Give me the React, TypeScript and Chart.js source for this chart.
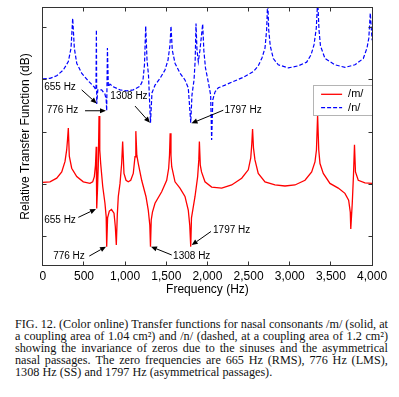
import React, { useEffect, useRef } from 'react';
import { Chart, registerables } from 'chart.js';

Chart.register(...registerables);

const SANS = '"Liberation Sans", Arial, Helvetica, sans-serif';
const SERIF = '"Liberation Serif", "Times New Roman", Times, serif';

// Frequency axis ticks (Hz) and dB gridline positions (unlabelled)
const X_TICKS = [0, 500, 1000, 1500, 2000, 2500, 3000, 3500, 4000];
const Y_TICKS = [-40, -30, -20, -10, 0];
const Y_MIN = -45.55;
const Y_MAX = 3.9;

// /m/ (solid red)
const M_FREQ = [0, 87, 169, 230, 270, 290, 300, 310, 322, 351, 412, 492, 573, 606, 626, 640, 649, 655, 664, 674, 683, 692, 703, 728, 755, 770, 776, 787, 808, 834, 865, 881, 893, 905, 917, 938, 958, 970, 986, 1011, 1038, 1068, 1099, 1120, 1130, 1142, 1160, 1201, 1253, 1281, 1300, 1308, 1317, 1332, 1363, 1444, 1505, 1529, 1539, 1547, 1557, 1566, 1606, 1666, 1727, 1767, 1785, 1797, 1806, 1849, 1881, 1895, 1902, 1913, 1928, 1970, 2051, 2173, 2294, 2416, 2496, 2526, 2538, 2548, 2559, 2577, 2617, 2699, 2820, 2942, 3063, 3185, 3266, 3306, 3324, 3338, 3352, 3367, 3407, 3488, 3589, 3670, 3715, 3735, 3741, 3759, 3774, 3786, 3798, 3832, 3913, 4000];
const M_DB = [-29.6, -29.5, -28.8, -27.6, -25.6, -23.4, -21.5, -19.2, -24.6, -26.9, -28.5, -29.5, -29.8, -29.5, -28.5, -26.3, -22.8, -34.6, -31.1, -26.3, -16.9, -23.4, -26.0, -30.4, -33.6, -36.2, -41.9, -36.4, -35.1, -34.8, -35.5, -38.1, -41.6, -35.8, -32.3, -29.8, -26.0, -21.8, -27.9, -29.2, -29.5, -29.2, -27.9, -24.7, -19.8, -24.4, -26.0, -29.2, -32.3, -34.9, -37.8, -41.9, -36.8, -35.3, -33.6, -31.4, -29.2, -26.9, -24.4, -20.2, -24.4, -26.6, -29.5, -30.7, -32.3, -34.9, -37.8, -41.9, -36.4, -32.3, -28.5, -25.3, -21.8, -26.3, -27.6, -29.5, -30.5, -30.7, -30.1, -28.8, -27.2, -24.9, -22.4, -19.4, -23.0, -25.3, -27.9, -29.5, -30.1, -30.3, -30.1, -29.2, -27.6, -25.7, -23.4, -16.7, -23.4, -26.0, -27.9, -29.8, -30.7, -31.7, -33.0, -35.3, -38.5, -33.6, -28.2, -22.4, -27.6, -29.2, -29.7, -29.8];

// /n/ (dashed blue)
const N_FREQ = [0, 87, 169, 249, 310, 343, 363, 383, 412, 472, 553, 622, 646, 651, 655, 668, 715, 755, 770, 776, 785, 796, 816, 856, 938, 1019, 1099, 1181, 1217, 1235, 1250, 1266, 1284, 1308, 1326, 1363, 1424, 1484, 1521, 1545, 1557, 1573, 1606, 1666, 1727, 1767, 1797, 1812, 1837, 1851, 1861, 1873, 1889, 1909, 1942, 1956, 1976, 2010, 2039, 2051, 2065, 2092, 2132, 2213, 2314, 2435, 2557, 2617, 2662, 2699, 2719, 2732, 2744, 2763, 2800, 2860, 2982, 3103, 3205, 3258, 3294, 3322, 3339, 3355, 3373, 3428, 3549, 3671, 3792, 3893, 3938, 3960, 3978, 4000];
const N_DB = [-9.8, -9.7, -9.2, -8.1, -6.5, -3.9, 1.8, -3.9, -6.8, -8.7, -10.2, -11.3, -11.9, -0.4, -14.6, -11.9, -11.9, -12.7, -13.8, -15.9, -3.9, -11.3, -10.8, -11.3, -11.9, -12.1, -11.9, -11.2, -10.0, -7.1, 0.3, -6.2, -9.1, -18.2, -12.5, -11.0, -9.7, -8.1, -6.2, -3.3, 0.3, -4.3, -6.8, -8.7, -10.0, -11.5, -18.2, -12.9, -10.0, -6.2, 0.8, -4.3, -6.5, -4.3, 0.7, -4.3, -7.7, -10.4, -12.9, -21.5, -13.8, -12.3, -11.5, -11.0, -10.3, -9.5, -8.4, -7.3, -5.8, -3.9, -0.4, 5.3, -0.4, -3.5, -5.9, -7.1, -7.7, -7.3, -6.6, -5.2, -3.3, -0.1, 5.3, -0.4, -3.5, -5.9, -7.1, -7.6, -7.1, -5.9, -3.9, -2.0, 2.8, -2.4];

// Zero-frequency callouts: label centre, arrow tail, arrow head (Hz, dB)
const CALLOUTS = [
  { text: '655 Hz', at: [209, -11.4], from: [472, -11.9], to: [655, -14.5] },
  { text: '776 Hz', at: [239, -15.8], from: [513, -15.9], to: [768, -15.9] },
  { text: '1308 Hz', at: [1047, -13.2], from: [1120, -15.0], to: [1302, -18.2] },
  { text: '1797 Hz', at: [2432, -15.8], from: [2192, -15.8], to: [1806, -18.3] },
  { text: '655 Hz', at: [209, -36.8], from: [431, -36.3], to: [646, -34.7] },
  { text: '776 Hz', at: [318, -43.8], from: [565, -43.7], to: [768, -41.9] },
  { text: '1308 Hz', at: [1809, -43.8], from: [1566, -43.5], to: [1314, -41.9] },
  { text: '1797 Hz', at: [2294, -38.7], from: [2043, -39.0], to: [1809, -41.6] },
];

const CAPTION_LINES = [
  'FIG. 12. (Color online) Transfer functions for nasal consonants /m/ (solid, at',
  'a coupling area of 1.04 cm²) and /n/ (dashed, at a coupling area of 1.2 cm²)',
  'showing the invariance of zeros due to the sinuses and the asymmetrical',
  'nasal passages. The zero frequencies are 665 Hz (RMS), 776 Hz (LMS),',
  '1308 Hz (SS) and 1797 Hz (asymmetrical passages).',
];

function drawArrow(ctx: CanvasRenderingContext2D, x0: number, y0: number, x1: number, y1: number) {
  const ang = Math.atan2(y1 - y0, x1 - x0);
  const len = 6;
  const hw = 2.6;
  const bx = x1 - len * Math.cos(ang);
  const by = y1 - len * Math.sin(ang);
  ctx.beginPath();
  ctx.moveTo(x0, y0);
  ctx.lineTo(bx, by);
  ctx.stroke();
  ctx.beginPath();
  ctx.moveTo(x1, y1);
  ctx.lineTo(bx + hw * Math.sin(ang), by - hw * Math.cos(ang));
  ctx.lineTo(bx - hw * Math.sin(ang), by + hw * Math.cos(ang));
  ctx.closePath();
  ctx.fill();
}

const framePlugin = {
  id: 'framePlugin',
  afterDatasetsDraw(chart: any) {
    const { ctx, chartArea: a, scales } = chart;
    const xs = scales.x;
    const ys = scales.y;
    ctx.save();

    // callouts
    ctx.strokeStyle = '#000';
    ctx.fillStyle = '#000';
    ctx.lineWidth = 1;
    ctx.font = `10px ${SANS}`;
    ctx.textAlign = 'center';
    ctx.textBaseline = 'middle';
    for (const c of CALLOUTS) {
      ctx.fillText(c.text, xs.getPixelForValue(c.at[0]), ys.getPixelForValue(c.at[1]));
      drawArrow(
        ctx,
        xs.getPixelForValue(c.from[0]), ys.getPixelForValue(c.from[1]),
        xs.getPixelForValue(c.to[0]), ys.getPixelForValue(c.to[1])
      );
    }

    // legend box
    const bw = 59, bh = 30;
    const bx = a.right - bw;
    const by = a.top + 77.7;
    ctx.fillStyle = '#fff';
    ctx.fillRect(bx, by, bw, bh);
    ctx.strokeStyle = '#b4b4b4';
    ctx.lineWidth = 1;
    ctx.strokeRect(Math.floor(bx) + 0.5, Math.floor(by) + 0.5, bw, bh);
    const ds = chart.data.datasets;
    const rows = [by + 9.3, by + 22.7];
    ds.forEach((d: any, i: number) => {
      ctx.save();
      ctx.strokeStyle = d.borderColor;
      ctx.lineWidth = d.borderWidth;
      ctx.setLineDash(d.borderDash || []);
      ctx.beginPath();
      ctx.moveTo(bx + 8, rows[i]);
      ctx.lineTo(bx + 29, rows[i]);
      ctx.stroke();
      ctx.restore();
      ctx.fillStyle = '#000';
      ctx.font = `11px ${SANS}`;
      ctx.textAlign = 'left';
      ctx.textBaseline = 'middle';
      ctx.fillText(d.label, bx + 35, rows[i]);
    });

    // plot frame
    const L = Math.floor(a.left) + 0.5;
    const R = Math.floor(a.right) + 0.5;
    const T = Math.floor(a.top) + 0.5;
    const B = Math.floor(a.bottom) + 0.5;
    ctx.strokeStyle = '#333';
    ctx.lineWidth = 1;
    ctx.strokeRect(L, T, R - L, B - T);

    // inward ticks on all four sides
    const tl = 4;
    ctx.beginPath();
    for (const v of X_TICKS) {
      const px = Math.floor(xs.getPixelForValue(v)) + 0.5;
      ctx.moveTo(px, B);
      ctx.lineTo(px, B - tl);
      ctx.moveTo(px, T);
      ctx.lineTo(px, T + tl);
    }
    for (const v of Y_TICKS) {
      const py = Math.floor(ys.getPixelForValue(v)) + 0.5;
      ctx.moveTo(L, py);
      ctx.lineTo(L + tl, py);
      ctx.moveTo(R, py);
      ctx.lineTo(R - tl, py);
    }
    ctx.stroke();
    ctx.restore();
  },
};

export default function App() {
  const ref = useRef<HTMLCanvasElement>(null);

  useEffect(() => {
    if (!ref.current) return;
    const chart = new Chart(ref.current, {
      type: 'scatter',
      data: {
        datasets: [
          {
            label: '/m/',
            data: M_FREQ.map((f, i) => ({ x: f, y: M_DB[i] })),
            showLine: true,
            borderColor: 'rgb(255,0,0)',
            backgroundColor: 'rgb(255,0,0)',
            borderWidth: 1.3,
            pointRadius: 0,
            pointHoverRadius: 0,
            tension: 0,
          },
          {
            label: '/n/',
            data: N_FREQ.map((f, i) => ({ x: f, y: N_DB[i] })),
            showLine: true,
            borderColor: 'rgb(0,0,255)',
            backgroundColor: 'rgb(0,0,255)',
            borderWidth: 1.2,
            borderDash: [4, 2],
            pointRadius: 0,
            pointHoverRadius: 0,
            tension: 0,
          },
        ],
      },
      options: {
        animation: false,
        responsive: false,
        devicePixelRatio: 1,
        events: [],
        layout: { padding: { left: 0, top: 7.3, right: 26.9, bottom: 0 } },
        plugins: {
          legend: { display: false },
          tooltip: { enabled: false },
        },
        scales: {
          x: {
            type: 'linear',
            position: 'bottom',
            min: 0,
            max: 4000,
            afterFit: (s: any) => { s.height = 34.3; },
            afterBuildTicks: (s: any) => { s.ticks = X_TICKS.map((v) => ({ value: v })); },
            ticks: {
              font: { family: SANS, size: 12 },
              color: '#000',
              padding: 3.6,
              maxRotation: 0,
              autoSkip: false,
            },
            grid: { display: false, drawTicks: false },
            border: { display: false },
            title: {
              display: true,
              text: 'Frequency (Hz)',
              font: { family: SANS, size: 12 },
              color: '#000',
              padding: { top: 0, bottom: 3.5 },
            },
          },
          y: {
            type: 'linear',
            position: 'left',
            min: Y_MIN,
            max: Y_MAX,
            afterFit: (s: any) => { s.width = 42.8; },
            afterBuildTicks: (s: any) => { s.ticks = Y_TICKS.map((v) => ({ value: v })); },
            ticks: { display: false },
            grid: { display: false, drawTicks: false },
            border: { display: false },
            title: {
              display: true,
              text: 'Relative Transfer Function (dB)',
              font: { family: SANS, size: 12 },
              color: '#000',
              padding: { top: 18.6, bottom: 0 },
            },
          },
        },
      },
      plugins: [framePlugin],
    } as any);
    return () => chart.destroy();
  }, []);

  return (
    <div style={{ position: 'absolute', left: 0, top: 0, width: 399, height: 397, background: '#fff', overflow: 'hidden' }}>
      <canvas
        ref={ref}
        width={399}
        height={300}
        style={{ position: 'absolute', left: 0, top: 0, width: 399, height: 300 }}
      />
      <div
        style={{
          position: 'absolute',
          left: 15,
          top: 318,
          width: 373,
          fontFamily: SERIF,
          fontSize: 12.2,
          lineHeight: '12px',
          color: '#111',
        }}
      >
        {CAPTION_LINES.map((line, i) =>
          i < CAPTION_LINES.length - 1 ? (
            <div key={i} style={{ display: 'flex', justifyContent: 'space-between', whiteSpace: 'nowrap', height: 12 }}>
              {line.split(' ').map((w, j) => (
                <span key={j}>{w}</span>
              ))}
            </div>
          ) : (
            <div key={i} style={{ whiteSpace: 'nowrap', height: 12 }}>{line}</div>
          )
        )}
      </div>
    </div>
  );
}
